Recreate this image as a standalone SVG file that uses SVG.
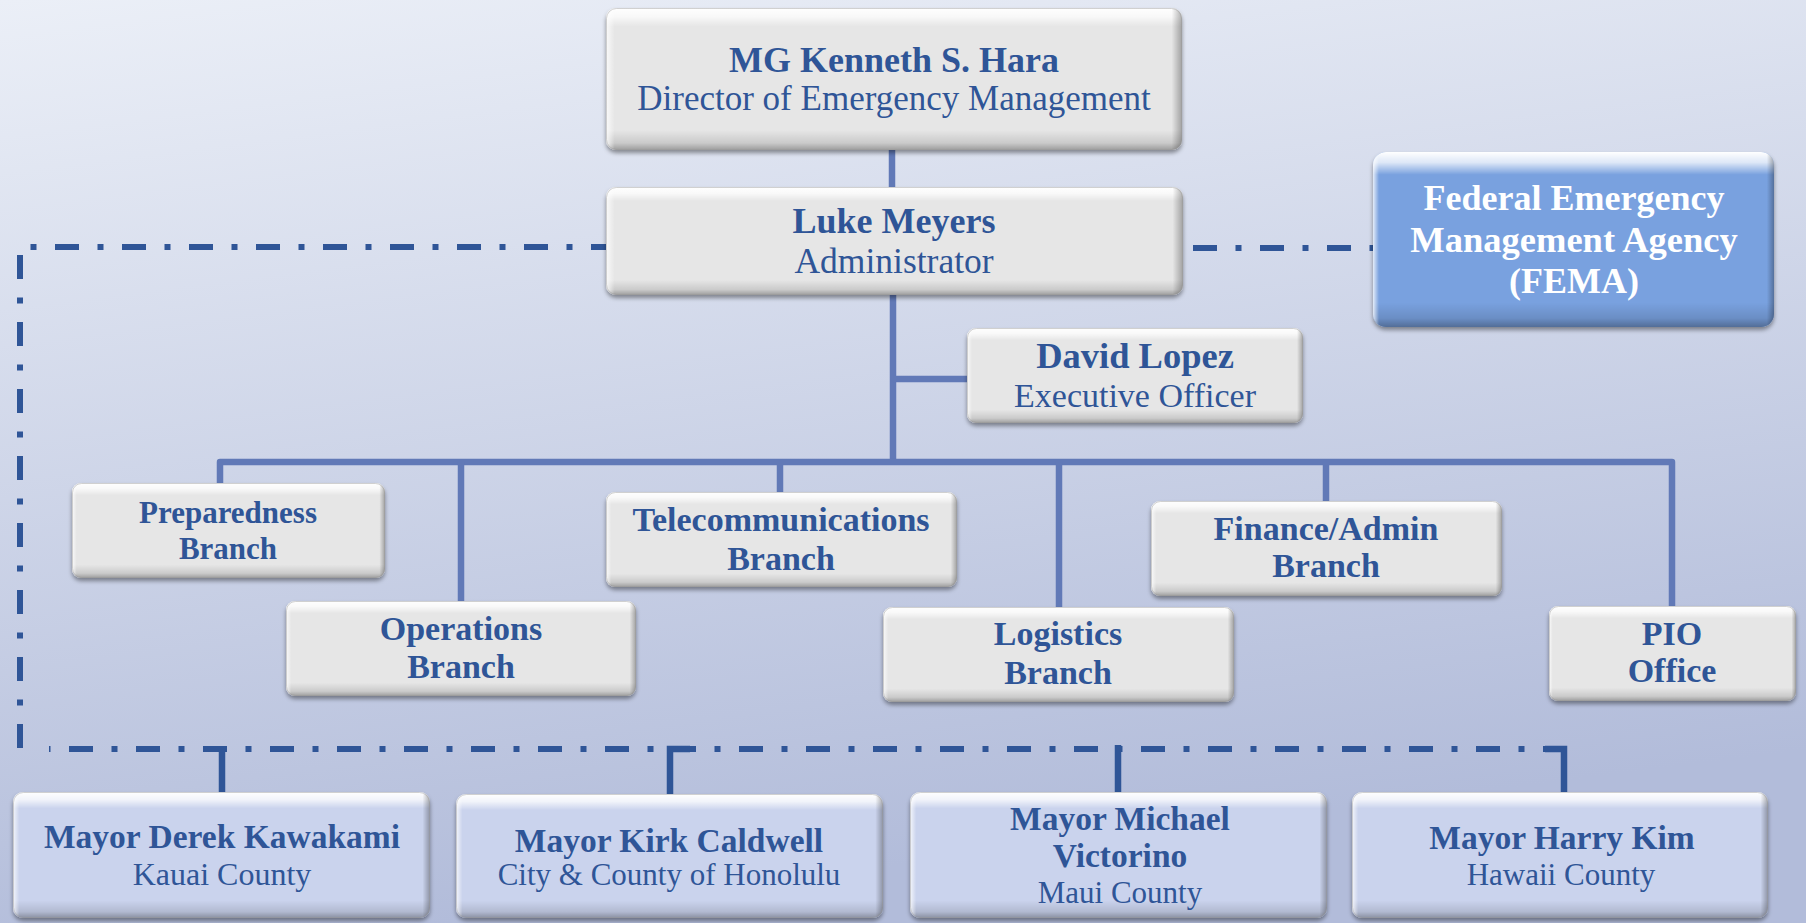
<svg xmlns="http://www.w3.org/2000/svg" width="1806" height="923" viewBox="0 0 1806 923">
<defs>
<linearGradient id="bg" x1="0" y1="0" x2="0.25" y2="1">
<stop offset="0" stop-color="#EBEFF7"/>
<stop offset="1" stop-color="#B2BCDA"/>
</linearGradient>
<linearGradient id="gv" x1="0" y1="0" x2="0" y2="1">
<stop offset="0" stop-color="#FFFFFF" stop-opacity="1"/>
<stop offset="0.06" stop-color="#FFFFFF" stop-opacity="0.75"/>
<stop offset="0.13" stop-color="#FFFFFF" stop-opacity="0"/>
<stop offset="0.86" stop-color="#000000" stop-opacity="0"/>
<stop offset="0.95" stop-color="#000000" stop-opacity="0.12"/>
<stop offset="1" stop-color="#000000" stop-opacity="0.32"/>
</linearGradient>
<linearGradient id="gh" x1="0" y1="0" x2="1" y2="0">
<stop offset="0" stop-color="#FFFFFF" stop-opacity="0.8"/>
<stop offset="0.015" stop-color="#FFFFFF" stop-opacity="0"/>
<stop offset="0.982" stop-color="#000000" stop-opacity="0"/>
<stop offset="1" stop-color="#000000" stop-opacity="0.3"/>
</linearGradient>
<filter id="sh" x="-5%" y="-10%" width="110%" height="130%">
<feDropShadow dx="0" dy="3" stdDeviation="2" flood-color="#000000" flood-opacity="0.4"/>
</filter>
</defs>
<style>
.box{fill:#E6E6E6;filter:url(#sh)}
.may{fill:#CAD3ED;filter:url(#sh)}
.fema{fill:#79A1DF;filter:url(#sh)}
.ov1{fill:url(#gv)}
.ov2{fill:url(#gh)}
.edge{fill:none;stroke:#9A9A9A;stroke-opacity:0.45;stroke-width:1}
text{font-family:"Liberation Serif","Times New Roman",serif;fill:#2F5597;text-anchor:middle}
.b{font-weight:bold}
.w{fill:#FFFFFF}
.c{fill:none;stroke:#6179B7;stroke-width:6.5}
.d{fill:none;stroke:#2F5597;stroke-width:6;stroke-dasharray:24 18.5 6 18.5}
.m{fill:none;stroke:#2F5597;stroke-width:6.5}
</style>
<rect x="0" y="0" width="1806" height="923" fill="url(#bg)"/>

<g id="connectors">
<path class="c" d="M892 150 V187"/>
<path class="c" d="M893 295 V462"/>
<path class="c" d="M893 379 H968"/>
<path class="c" d="M220 484 V462 H1672 V606" stroke-linejoin="round"/>
<path class="c" d="M461 462 V601"/>
<path class="c" d="M780 462 V492"/>
<path class="c" d="M1059 462 V607"/>
<path class="c" d="M1326 462 V501"/>
<path class="d" d="M615 247 H20 V748"/>
<path class="d" d="M1193 248 H1373"/>
<path class="d" d="M49 749 H1567" stroke-dashoffset="47"/>
<path class="m" d="M222 749 V792"/>
<path class="m" d="M670 794 V749 H690"/>
<path class="m" d="M1118 745 V792"/>
<path class="m" d="M1545 749 H1564 V792"/>
</g>

<g id="director">
<rect class="box" x="606" y="8" width="576" height="142" rx="10"/>
<rect class="ov1" x="606" y="8" width="576" height="142" rx="10"/>
<rect class="ov2" x="606" y="8" width="576" height="142" rx="10"/>
<rect class="edge" x="606.5" y="8.5" width="575" height="141" rx="10"/>
<text class="b" x="894" y="72" font-size="36">MG Kenneth S. Hara</text>
<text x="894" y="110" font-size="35">Director of Emergency Management</text>
</g>

<g id="administrator">
<rect class="box" x="606" y="187" width="577" height="108" rx="10"/>
<rect class="ov1" x="606" y="187" width="577" height="108" rx="10"/>
<rect class="ov2" x="606" y="187" width="577" height="108" rx="10"/>
<rect class="edge" x="606.5" y="187.5" width="576" height="107" rx="10"/>
<text class="b" x="894" y="233" font-size="36">Luke Meyers</text>
<text x="894" y="273" font-size="35.5">Administrator</text>
</g>

<g id="fema">
<rect class="fema" x="1373" y="152" width="401" height="175" rx="13"/>
<rect class="ov1" x="1373" y="152" width="401" height="175" rx="13"/>
<rect class="ov2" x="1373" y="152" width="401" height="175" rx="13"/>
<text class="b w" x="1574" y="210" font-size="36">Federal Emergency</text>
<text class="b w" x="1574" y="252" font-size="36.5">Management Agency</text>
<text class="b w" x="1574" y="293" font-size="36">(FEMA)</text>
</g>

<g id="executive">
<rect class="box" x="967" y="328" width="336" height="95" rx="9"/>
<rect class="ov1" x="967" y="328" width="336" height="95" rx="9"/>
<rect class="ov2" x="967" y="328" width="336" height="95" rx="9"/>
<rect class="edge" x="967.5" y="328.5" width="335" height="94" rx="9"/>
<text class="b" x="1135" y="368" font-size="36.5">David Lopez</text>
<text x="1135" y="407" font-size="34">Executive Officer</text>
</g>

<g id="preparedness">
<rect class="box" x="72" y="483" width="313" height="95" rx="9"/>
<rect class="ov1" x="72" y="483" width="313" height="95" rx="9"/>
<rect class="ov2" x="72" y="483" width="313" height="95" rx="9"/>
<rect class="edge" x="72.5" y="483.5" width="312" height="94" rx="9"/>
<text class="b" x="228" y="523" font-size="31">Preparedness</text>
<text class="b" x="228" y="559" font-size="31">Branch</text>
</g>

<g id="operations">
<rect class="box" x="286" y="601" width="350" height="95" rx="9"/>
<rect class="ov1" x="286" y="601" width="350" height="95" rx="9"/>
<rect class="ov2" x="286" y="601" width="350" height="95" rx="9"/>
<rect class="edge" x="286.5" y="601.5" width="349" height="94" rx="9"/>
<text class="b" x="461" y="640" font-size="34">Operations</text>
<text class="b" x="461" y="678" font-size="34">Branch</text>
</g>

<g id="telecommunications">
<rect class="box" x="606" y="492" width="351" height="95" rx="9"/>
<rect class="ov1" x="606" y="492" width="351" height="95" rx="9"/>
<rect class="ov2" x="606" y="492" width="351" height="95" rx="9"/>
<rect class="edge" x="606.5" y="492.5" width="350" height="94" rx="9"/>
<text class="b" x="781" y="531" font-size="34">Telecommunications</text>
<text class="b" x="781" y="570" font-size="34">Branch</text>
</g>

<g id="logistics">
<rect class="box" x="883" y="607" width="351" height="95" rx="9"/>
<rect class="ov1" x="883" y="607" width="351" height="95" rx="9"/>
<rect class="ov2" x="883" y="607" width="351" height="95" rx="9"/>
<rect class="edge" x="883.5" y="607.5" width="350" height="94" rx="9"/>
<text class="b" x="1058" y="645" font-size="34">Logistics</text>
<text class="b" x="1058" y="684" font-size="34">Branch</text>
</g>

<g id="finance">
<rect class="box" x="1151" y="501" width="351" height="95" rx="9"/>
<rect class="ov1" x="1151" y="501" width="351" height="95" rx="9"/>
<rect class="ov2" x="1151" y="501" width="351" height="95" rx="9"/>
<rect class="edge" x="1151.5" y="501.5" width="350" height="94" rx="9"/>
<text class="b" x="1326" y="540" font-size="34">Finance/Admin</text>
<text class="b" x="1326" y="577" font-size="34">Branch</text>
</g>

<g id="pio">
<rect class="box" x="1549" y="606" width="247" height="95" rx="9"/>
<rect class="ov1" x="1549" y="606" width="247" height="95" rx="9"/>
<rect class="ov2" x="1549" y="606" width="247" height="95" rx="9"/>
<rect class="edge" x="1549.5" y="606.5" width="246" height="94" rx="9"/>
<text class="b" x="1672" y="645" font-size="34">PIO</text>
<text class="b" x="1672" y="682" font-size="34">Office</text>
</g>

<g id="kauai">
<rect class="may" x="13" y="792" width="417" height="126" rx="10"/>
<rect class="ov1" x="13" y="792" width="417" height="126" rx="10"/>
<rect class="ov2" x="13" y="792" width="417" height="126" rx="10"/>
<rect class="edge" x="13.5" y="792.5" width="416" height="125" rx="10"/>
<text class="b" x="222" y="848" font-size="33.5">Mayor Derek Kawakami</text>
<text x="222" y="885" font-size="32">Kauai County</text>
</g>

<g id="honolulu">
<rect class="may" x="456" y="794" width="427" height="124" rx="10"/>
<rect class="ov1" x="456" y="794" width="427" height="124" rx="10"/>
<rect class="ov2" x="456" y="794" width="427" height="124" rx="10"/>
<rect class="edge" x="456.5" y="794.5" width="426" height="123" rx="10"/>
<text class="b" x="669" y="852" font-size="33.5">Mayor Kirk Caldwell</text>
<text x="669" y="885" font-size="31">City &amp; County of Honolulu</text>
</g>

<g id="maui">
<rect class="may" x="910" y="792" width="417" height="126" rx="10"/>
<rect class="ov1" x="910" y="792" width="417" height="126" rx="10"/>
<rect class="ov2" x="910" y="792" width="417" height="126" rx="10"/>
<rect class="edge" x="910.5" y="792.5" width="416" height="125" rx="10"/>
<text class="b" x="1120" y="830" font-size="33.5">Mayor Michael</text>
<text class="b" x="1120" y="867" font-size="33.5">Victorino</text>
<text x="1120" y="903" font-size="31">Maui County</text>
</g>

<g id="hawaii">
<rect class="may" x="1352" y="792" width="416" height="126" rx="10"/>
<rect class="ov1" x="1352" y="792" width="416" height="126" rx="10"/>
<rect class="ov2" x="1352" y="792" width="416" height="126" rx="10"/>
<rect class="edge" x="1352.5" y="792.5" width="415" height="125" rx="10"/>
<text class="b" x="1562" y="849" font-size="33.5">Mayor Harry Kim</text>
<text x="1561" y="885" font-size="31">Hawaii County</text>
</g>
</svg>
